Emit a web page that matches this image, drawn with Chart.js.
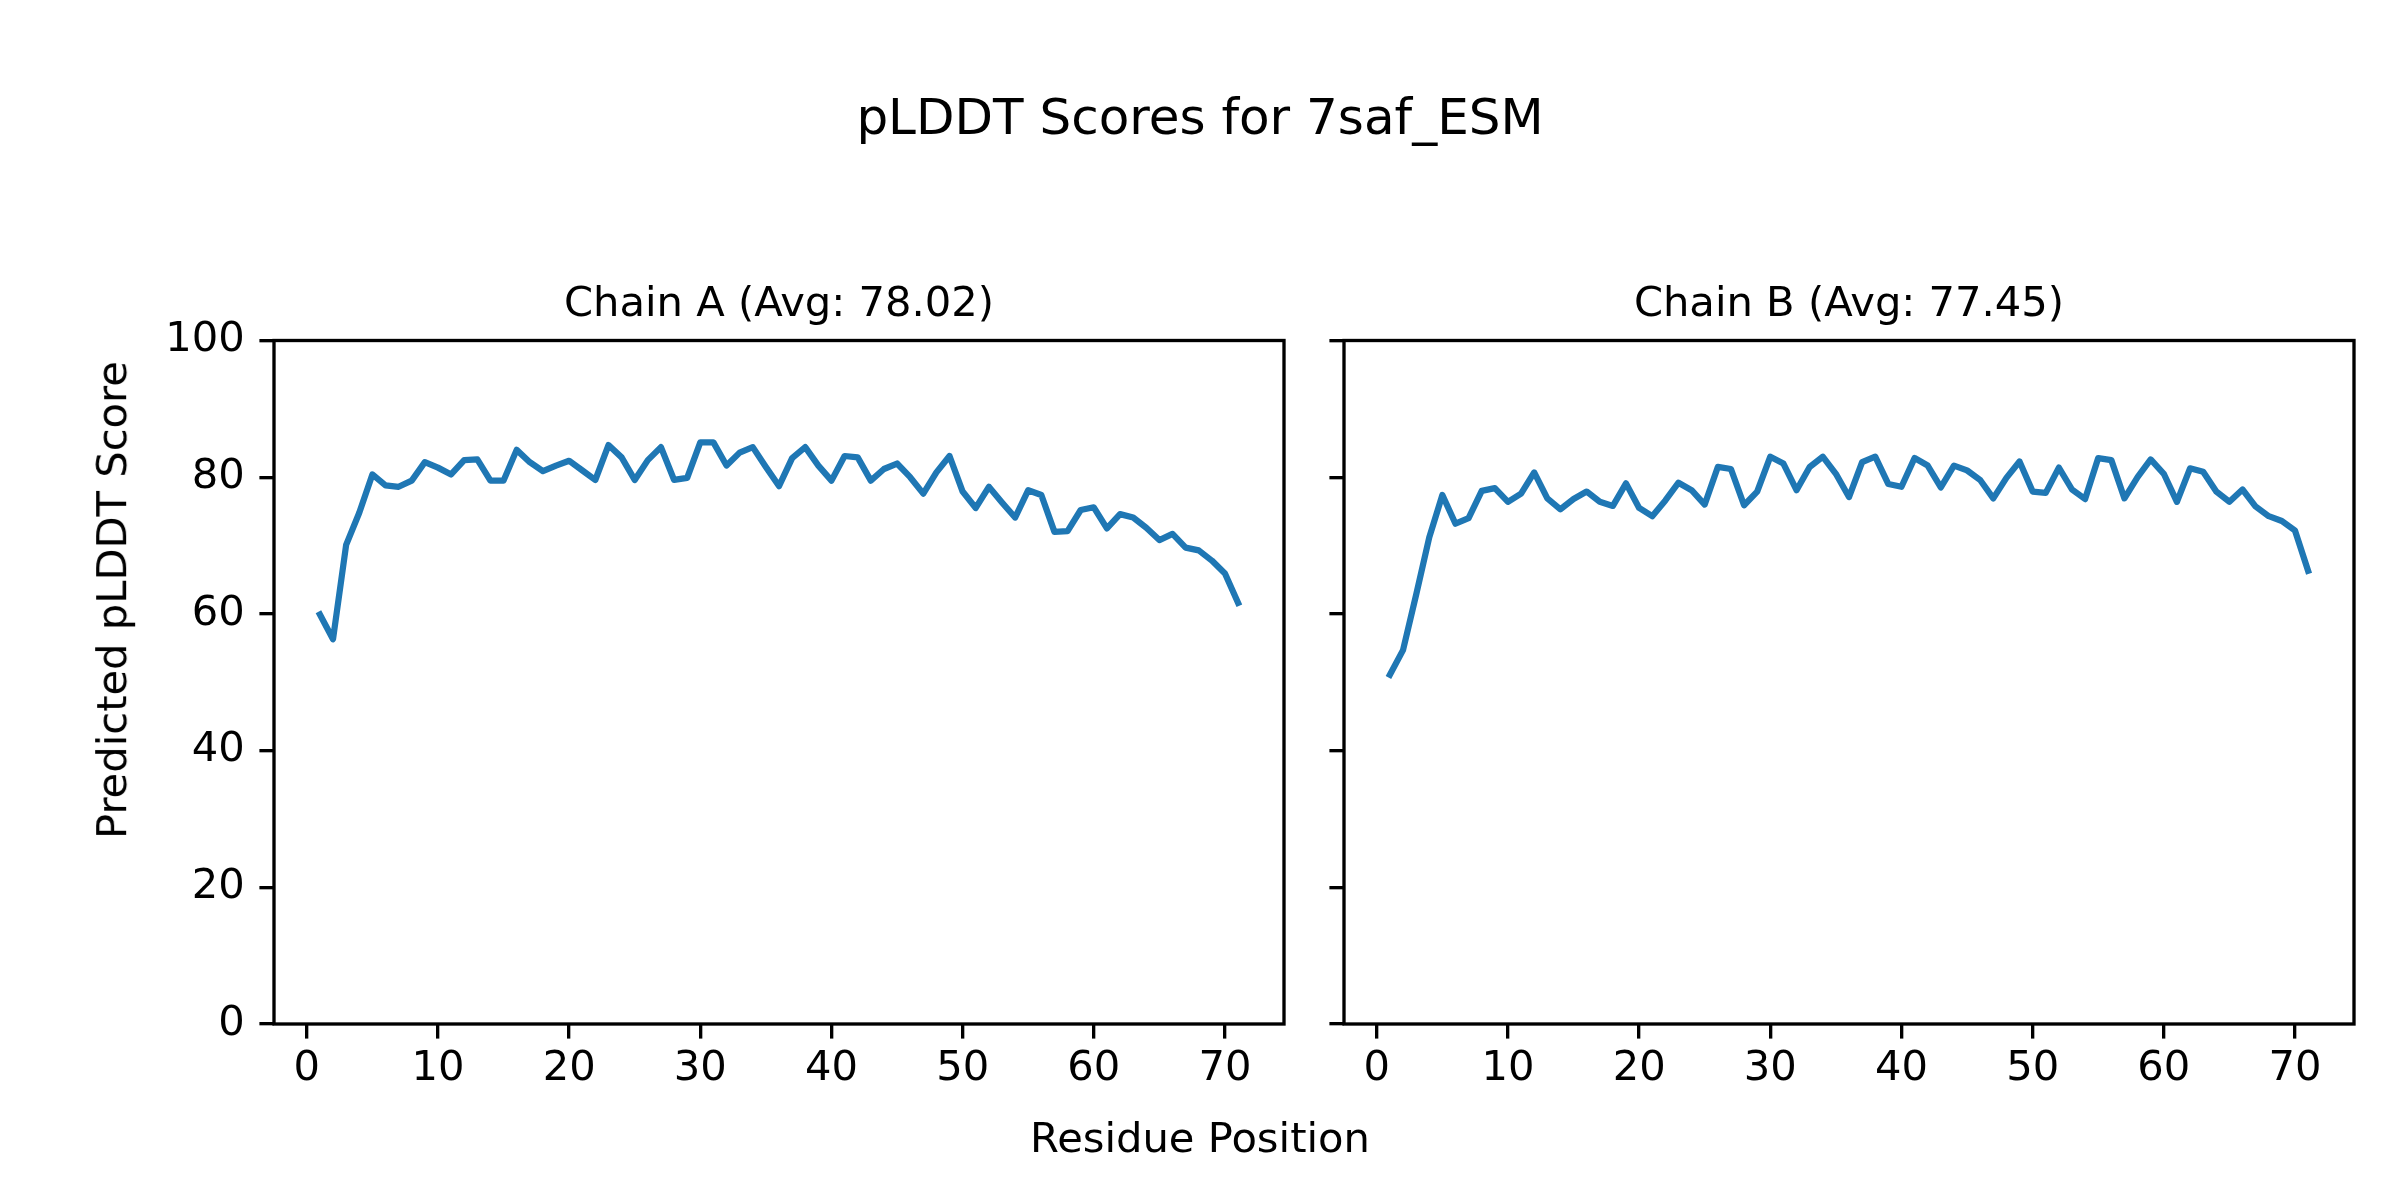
<!DOCTYPE html>
<html>
<head>
<meta charset="utf-8">
<script src="https://cdn.jsdelivr.net/npm/chart.js@4.4.1/dist/chart.umd.min.js"></script>
<style>
  html, body { margin:0; padding:0; background:#fff; }
  #wrap { position:relative; width:2400px; height:1200px; background:#fff; overflow:hidden; }
  .txt { position:absolute; font-family:'DejaVu Sans'; color:#000; white-space:nowrap; line-height:1; }
  #sup { left:1200px; top:91.7px; font-size:50px; transform:translateX(-50%); }
  #xl { left:1200px; top:1117px; font-size:41.67px; transform:translateX(-50%); }
  #yl { left:111.5px; top:600px; font-size:41.67px; transform:translate(-50%,-50%) rotate(-90deg); }
  .box { position:absolute; top:0; height:1200px; }
</style>
</head>
<body>
<div id="wrap">
  <div class="box" style="left:0;width:1300px"><canvas id="cA" width="1300" height="1200"></canvas></div>
  <div class="box" style="left:1300px;width:1100px"><canvas id="cB" width="1100" height="1200"></canvas></div>
  <div class="txt" id="sup"></div>
  <div class="txt" id="xl"></div>
  <div class="txt" id="yl"></div>
</div>
<script>
// ---- data ----
const figTitle = 'pLDDT Scores for 7saf_ESM';
const xLabel = 'Residue Position';
const yLabel = 'Predicted pLDDT Score';
const chainNames = ['Chain A', 'Chain B'];
const chainAvgs = ['78.02', '77.45'];
const residues = [1,2,3,4,5,6,7,8,9,10,11,12,13,14,15,16,17,18,19,20,21,22,23,24,25,26,27,28,29,30,31,32,33,34,35,36,37,38,39,40,41,42,43,44,45,46,47,48,49,50,51,52,53,54,55,56,57,58,59,60,61,62,63,64,65,66,67,68,69,70,71];
const chainA = [59.9,56.3,70.1,74.8,80.4,78.8,78.6,79.5,82.2,81.4,
                80.4,82.5,82.6,79.5,79.5,84.0,82.2,80.9,81.7,82.4,
                81.0,79.6,84.7,82.9,79.6,82.5,84.4,79.6,79.9,85.1,
                85.1,81.7,83.6,84.4,81.5,78.7,82.8,84.4,81.7,79.5,
                83.1,82.9,79.5,81.2,82.0,80.0,77.6,80.7,83.1,77.9,
                75.5,78.6,76.3,74.1,78.1,77.4,72.0,72.1,75.2,75.6,
                72.5,74.6,74.1,72.6,70.8,71.7,69.7,69.3,67.8,65.9,61.6];
const chainB = [51.1,54.7,62.8,71.2,77.4,73.2,74.0,78.0,78.4,76.4,
                77.6,80.7,76.9,75.3,76.8,77.9,76.4,75.8,79.1,75.5,
                74.3,76.6,79.2,78.1,76.0,81.5,81.2,75.9,77.9,83.0,
                82.0,78.1,81.5,83.0,80.5,77.1,82.2,83.0,79.0,78.6,
                82.8,81.7,78.5,81.7,81.0,79.6,76.9,79.9,82.3,77.9,
                77.7,81.4,78.2,76.8,82.8,82.5,76.9,80.0,82.6,80.5,
                76.4,81.3,80.8,77.9,76.4,78.2,75.7,74.3,73.6,72.2,66.3];
const xTicks = [0,10,20,30,40,50,60,70];
const yTicks = [0,20,40,60,80,100];

// ---- drawing ----
document.getElementById('sup').textContent = figTitle;
document.getElementById('xl').textContent = xLabel;
document.getElementById('yl').textContent = yLabel;

const FONT = "'DejaVu Sans'";
const TICKFS = 41.67;
const LW = 3.33;

const frame = {
  id: 'frame',
  afterDraw(chart) {
    const a = chart.chartArea, ctx = chart.ctx;
    ctx.save();
    ctx.strokeStyle = '#000';
    ctx.lineWidth = LW;
    ctx.lineJoin = 'miter';
    ctx.strokeRect(a.left, a.top, a.right - a.left, a.bottom - a.top);
    ctx.restore();
  }
};

function makeChart(id, values, idx, showYLabels, yWidth, padRight) {
  return new Chart(document.getElementById(id), {
    type: 'line',
    data: {
      datasets: [{
        data: residues.map((r, i) => ({x: r, y: values[i]})),
        borderColor: '#1f77b4',
        borderWidth: 6.25,
        pointRadius: 0,
        pointHoverRadius: 0,
        tension: 0,
        fill: false,
        borderJoinStyle: 'round',
        borderCapStyle: 'square'
      }]
    },
    plugins: [frame],
    options: {
      responsive: false,
      animation: false,
      devicePixelRatio: 1,
      events: [],
      layout: { padding: { left: 0, right: padRight, top: 280.5, bottom: 0 } },
      plugins: {
        legend: { display: false },
        tooltip: { enabled: false },
        title: {
          display: true,
          fullSize: false,
          text: chainNames[idx] + ' (Avg: ' + chainAvgs[idx] + ')',
          color: '#000',
          font: { family: FONT, size: 41.67, weight: 'normal', lineHeight: 1.2 },
          padding: { top: 0, bottom: 10 }
        }
      },
      scales: {
        x: {
          type: 'linear',
          min: -2.5,
          max: 74.5,
          afterBuildTicks: s => { s.ticks = xTicks.map(v => ({value: v})); },
          afterFit: s => { s.height = 176; },
          ticks: { color: '#000', font: { family: FONT, size: TICKFS }, padding: 6, maxRotation: 0, autoSkip: false },
          grid: { drawOnChartArea: false, drawTicks: true, tickLength: 14.6, color: '#000', lineWidth: LW },
          border: { display: false }
        },
        y: {
          type: 'linear',
          min: 0,
          max: 100,
          afterBuildTicks: s => { s.ticks = yTicks.map(v => ({value: v})); },
          afterFit: s => { s.width = yWidth; },
          ticks: { display: showYLabels, color: '#000', font: { family: FONT, size: TICKFS }, padding: 14.6 },
          grid: { drawOnChartArea: false, drawTicks: true, tickLength: 14.6, color: '#000', lineWidth: LW },
          border: { display: false }
        }
      }
    }
  });
}

makeChart('cA', chainA, 0, true, 274, 16);
makeChart('cB', chainB, 1, false, 44, 46);
</script>
</body>
</html>
